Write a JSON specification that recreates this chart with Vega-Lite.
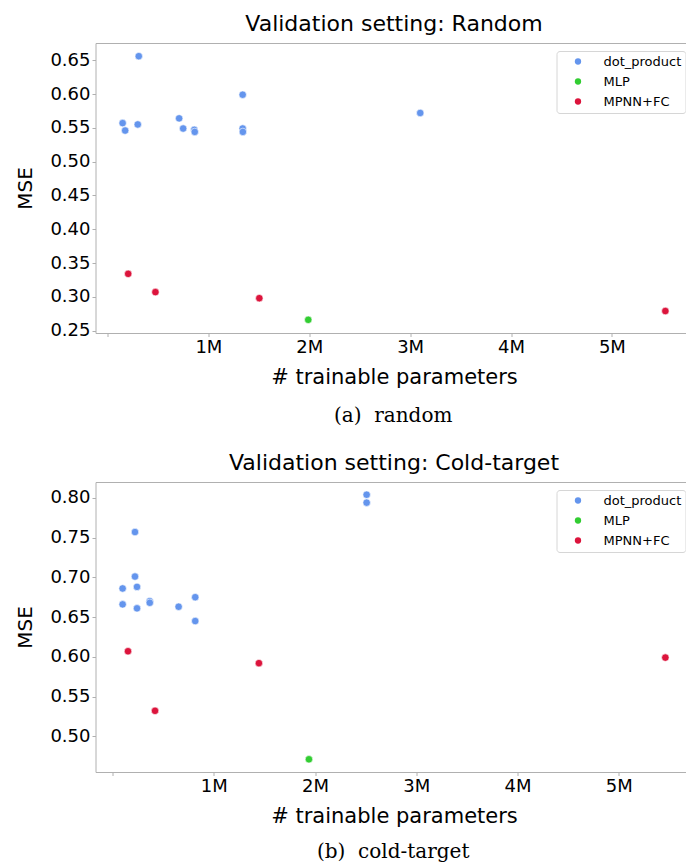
{
  "$schema": "https://vega.github.io/schema/vega-lite/v6.json",
  "padding": {"left": 14.5, "top": 12, "right": 0, "bottom": 0},
  "background": "white",
  "datasets": {
    "random": [
      {"model": "dot_product", "params": 310000, "mse": 0.656},
      {"model": "dot_product", "params": 1340000, "mse": 0.599},
      {"model": "dot_product", "params": 150000, "mse": 0.557},
      {"model": "dot_product", "params": 175000, "mse": 0.546},
      {"model": "dot_product", "params": 300000, "mse": 0.555},
      {"model": "dot_product", "params": 710000, "mse": 0.564},
      {"model": "dot_product", "params": 750000, "mse": 0.549},
      {"model": "dot_product", "params": 860000, "mse": 0.547},
      {"model": "dot_product", "params": 865000, "mse": 0.544},
      {"model": "dot_product", "params": 1340000, "mse": 0.549},
      {"model": "dot_product", "params": 1342000, "mse": 0.544},
      {"model": "dot_product", "params": 3100000, "mse": 0.572},
      {"model": "MLP", "params": 1990000, "mse": 0.266},
      {"model": "MPNN+FC", "params": 205000, "mse": 0.334},
      {"model": "MPNN+FC", "params": 475000, "mse": 0.307},
      {"model": "MPNN+FC", "params": 1505000, "mse": 0.298},
      {"model": "MPNN+FC", "params": 5530000, "mse": 0.279}
    ],
    "cold": [
      {"model": "dot_product", "params": 222000, "mse": 0.757},
      {"model": "dot_product", "params": 222000, "mse": 0.701},
      {"model": "dot_product", "params": 100000, "mse": 0.686},
      {"model": "dot_product", "params": 242000, "mse": 0.688},
      {"model": "dot_product", "params": 100000, "mse": 0.666},
      {"model": "dot_product", "params": 242000, "mse": 0.661},
      {"model": "dot_product", "params": 367000, "mse": 0.670},
      {"model": "dot_product", "params": 368000, "mse": 0.668},
      {"model": "dot_product", "params": 653000, "mse": 0.663},
      {"model": "dot_product", "params": 817000, "mse": 0.675},
      {"model": "dot_product", "params": 817000, "mse": 0.645},
      {"model": "dot_product", "params": 2510000, "mse": 0.804},
      {"model": "dot_product", "params": 2510000, "mse": 0.794},
      {"model": "MLP", "params": 1940000, "mse": 0.471},
      {"model": "MPNN+FC", "params": 153000, "mse": 0.607},
      {"model": "MPNN+FC", "params": 420000, "mse": 0.532},
      {"model": "MPNN+FC", "params": 1446000, "mse": 0.592},
      {"model": "MPNN+FC", "params": 5460000, "mse": 0.599}
    ]
  },
  "config": {
    "font": "DejaVu Sans",
    "view": {"stroke": "#b0b0b0", "strokeWidth": 1},
    "axis": {
      "domain": false,
      "grid": false,
      "tickColor": "#b0b0b0",
      "tickSize": 3.5,
      "labelFont": "DejaVu Sans",
      "labelFontSize": 18,
      "labelColor": "#000000",
      "titleFont": "DejaVu Sans",
      "titleFontSize": 21,
      "titleFontWeight": "normal",
      "titleColor": "#000000"
    },
    "axisX": {"labelPadding": 2, "titlePadding": 10},
    "axisY": {"labelPadding": 2, "titlePadding": 14, "titleFontSize": 20},
    "title": {
      "font": "DejaVu Sans",
      "fontSize": 22,
      "fontWeight": "normal",
      "color": "#000000",
      "offset": 7,
      "anchor": "middle"
    },
    "concat": {"spacing": 25}
  },
  "vconcat": [
    {
      "title": {"text": "(a)\u00a0 random", "orient": "bottom", "font": "DejaVu Serif", "fontSize": 20, "offset": 18, "dx": 39},
      "resolve": {"scale": {"x": "independent", "y": "independent", "color": "independent"}, "legend": {"color": "independent"}},
      "vconcat": [
        {
          "width": 597,
          "height": 290,
          "title": {"text": "Validation setting: Random"},
          "data": {"name": "random"},
          "mark": {"type": "circle", "size": 56, "opacity": 1, "stroke": "white", "strokeWidth": 0.6},
          "encoding": {
            "x": {
              "field": "params", "type": "quantitative",
              "scale": {"domain": [-119000, 5799000], "nice": false, "zero": false},
              "axis": {"values": [0, 1000000, 2000000, 3000000, 4000000, 5000000], "labelExpr": "datum.value == 0 ? '' : (datum.value / 1000000) + 'M'", "title": "# trainable parameters"}
            },
            "y": {
              "field": "mse", "type": "quantitative",
              "scale": {"domain": [0.2465, 0.6755], "nice": false, "zero": false},
              "axis": {"values": [0.25, 0.3, 0.35, 0.4, 0.45, 0.5, 0.55, 0.6, 0.65], "format": ".2f", "title": "MSE"}
            },
            "color": {
              "field": "model", "type": "nominal",
              "scale": {"domain": ["dot_product", "MLP", "MPNN+FC"], "range": ["#6495ED", "#32CD32", "#DC143C"]},
              "legend": {
                "orient": "top-right", "offset": 7.5, "title": null,
                "labelFont": "DejaVu Sans", "labelFontSize": 13, "labelColor": "#000000",
                "symbolType": "circle", "symbolSize": 40, "symbolStrokeWidth": 0,
                "symbolOffset": 11, "labelOffset": 19, "rowPadding": 6, "padding": 4,
                "fillColor": "white", "strokeColor": "#d6d6d6", "cornerRadius": 3
              }
            }
          }
        }
      ]
    },
    {
      "title": {"text": "(b)\u00a0 cold-target", "orient": "bottom", "font": "DejaVu Serif", "fontSize": 20, "offset": 15, "dx": 39},
      "resolve": {"scale": {"x": "independent", "y": "independent", "color": "independent"}, "legend": {"color": "independent"}},
      "vconcat": [
        {
          "width": 597,
          "height": 290,
          "title": {"text": "Validation setting: Cold-target"},
          "data": {"name": "cold"},
          "mark": {"type": "circle", "size": 56, "opacity": 1, "stroke": "white", "strokeWidth": 0.6},
          "encoding": {
            "x": {
              "field": "params", "type": "quantitative",
              "scale": {"domain": [-168000, 5728000], "nice": false, "zero": false},
              "axis": {"values": [0, 1000000, 2000000, 3000000, 4000000, 5000000], "labelExpr": "datum.value == 0 ? '' : (datum.value / 1000000) + 'M'", "title": "# trainable parameters"}
            },
            "y": {
              "field": "mse", "type": "quantitative",
              "scale": {"domain": [0.455, 0.82], "nice": false, "zero": false},
              "axis": {"values": [0.5, 0.55, 0.6, 0.65, 0.7, 0.75, 0.8], "format": ".2f", "title": "MSE"}
            },
            "color": {
              "field": "model", "type": "nominal",
              "scale": {"domain": ["dot_product", "MLP", "MPNN+FC"], "range": ["#6495ED", "#32CD32", "#DC143C"]},
              "legend": {
                "orient": "top-right", "offset": 7.5, "title": null,
                "labelFont": "DejaVu Sans", "labelFontSize": 13, "labelColor": "#000000",
                "symbolType": "circle", "symbolSize": 40, "symbolStrokeWidth": 0,
                "symbolOffset": 11, "labelOffset": 19, "rowPadding": 6, "padding": 4,
                "fillColor": "white", "strokeColor": "#d6d6d6", "cornerRadius": 3
              }
            }
          }
        }
      ]
    }
  ],
  "resolve": {"scale": {"x": "independent", "y": "independent", "color": "independent"}, "legend": {"color": "independent"}}
}
